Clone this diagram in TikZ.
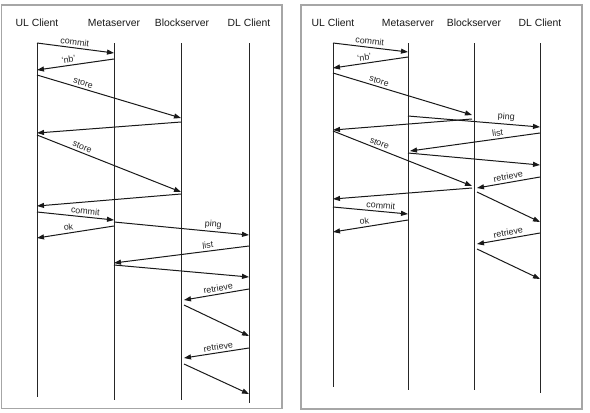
\documentclass[tikz,border=0pt]{standalone}
\usepackage{fontspec}
\setmainfont{Liberation Sans}
\usetikzlibrary{arrows.meta}
\begin{document}
\begin{tikzpicture}[x=1pt,y=-1pt,
  frame/.style={draw=black!35,line width=1.1pt},
  hdr/.style={font=\fontsize{10.4}{12}\selectfont,inner sep=0pt,text=black!90},
  life/.style={draw=black!85,line width=1pt},
  msg/.style={draw=black!90,line width=1pt,-{Triangle[length=7pt,width=5pt]}},
  lbl/.style={font=\fontsize{8.9}{10}\selectfont,sloped,above,inner sep=2.2pt,text=black!85}]
\useasboundingbox (0,0) rectangle (590,413);
\fill[white] (0,0) rectangle (590,413);
% frames
\draw[frame] (1.5,5) rectangle (282,408.5);
\draw[frame] (301,5) rectangle (582,409);

% ---------- left panel ----------
\node[hdr] (hulA) at (37,23) {UL Client};
\node[hdr] (hmsA) at (114,23) {Metaserver};
\node[hdr] (hbsA) at (182,23) {Blockserver};
\node[hdr] (hdlA) at (249,23) {DL Client};
\coordinate (ulA) at (37,43);  \coordinate (ulAe) at (37,397);
\coordinate (msA) at (114,43); \coordinate (msAe) at (114,400);
\coordinate (bsA) at (181,43); \coordinate (bsAe) at (181,400);
\coordinate (dlA) at (249,43); \coordinate (dlAe) at (249,403);
\draw[life] (ulA) -- (ulAe);
\draw[life] (msA) -- (msAe);
\draw[life] (bsA) -- (bsAe);
\draw[life] (dlA) -- (dlAe);

\draw[msg] (ulA |- 0,43) -- node[lbl,pos=.48]{commit} (msA |- 0,53);
\draw[msg] (msA |- 0,59) -- node[lbl,pos=.58]{`nb'} (ulA |- 0,70);
\draw[msg] (ulA |- 0,75) -- node[lbl,pos=.31]{store} (bsA |- 0,118);
\draw[msg] (bsA |- 0,122) -- (ulA |- 0,133);
\draw[msg] (ulA |- 0,135) -- node[lbl,pos=.30]{store} (bsA |- 0,192);
\draw[msg] (bsA |- 0,194) -- (ulA |- 0,206);
\draw[msg] (ulA |- 0,212) -- node[lbl,pos=.62]{commit} (msA |- 0,220);
\draw[msg] (msA |- 0,222) -- node[lbl,pos=.73]{ping} (dlA |- 0,235);
\draw[msg] (msA |- 0,226) -- node[lbl,pos=.58]{ok} (ulA |- 0,238);
\draw[msg] (dlA |- 0,246) -- node[lbl,pos=.30]{list} (msA |- 0,263);
\draw[msg] (msA |- 0,265) -- (dlA |- 0,277);
\draw[msg] (dlA |- 0,289) -- node[lbl,pos=.46]{retrieve} ([xshift=3pt]bsA |- 0,300);
\draw[msg] ([xshift=3pt]bsA |- 0,305) -- (dlA |- 0,336);
\draw[msg] (dlA |- 0,348) -- node[lbl,pos=.46]{retrieve} ([xshift=3pt]bsA |- 0,358);
\draw[msg] ([xshift=3pt]bsA |- 0,364) -- (dlA |- 0,394);

% ---------- right panel ----------
\node[hdr] (hulB) at (333,23) {UL Client};
\node[hdr] (hmsB) at (408,23) {Metaserver};
\node[hdr] (hbsB) at (474,23) {Blockserver};
\node[hdr] (hdlB) at (540,23) {DL Client};
\coordinate (ulB) at (333,43); \coordinate (ulBe) at (333,387);
\coordinate (msB) at (408,43); \coordinate (msBe) at (408,390);
\coordinate (bsB) at (474,43); \coordinate (bsBe) at (474,390);
\coordinate (dlB) at (540,43); \coordinate (dlBe) at (540,393);
\draw[life] (ulB) -- (ulBe);
\draw[life] (msB) -- (msBe);
\draw[life] (bsB) -- (bsBe);
\draw[life] (dlB) -- (dlBe);

\draw[msg] (ulB |- 0,43) -- node[lbl,pos=.48]{commit} (msB |- 0,52);
\draw[msg] (msB |- 0,57) -- node[lbl,pos=.57]{`nb'} (ulB |- 0,68);
\draw[msg] (ulB |- 0,73) -- node[lbl,pos=.32]{store} ([xshift=-2pt]bsB |- 0,115);
\draw[msg] (msB |- 0,116) -- node[lbl,pos=.74]{ping} (dlB |- 0,127);
\draw[msg] ([xshift=-2pt]bsB |- 0,119) -- (ulB |- 0,130);
\draw[msg] (dlB |- 0,133) -- node[lbl,pos=.32]{list} ([xshift=2pt]msB |- 0,151);
\draw[msg] (ulB |- 0,131) -- node[lbl,pos=.32]{store} ([xshift=-2pt]bsB |- 0,186);
\draw[msg] (msB |- 0,153) -- (dlB |- 0,165);
\draw[msg] (dlB |- 0,177) -- node[lbl,pos=.49]{retrieve} ([xshift=3pt]bsB |- 0,188);
\draw[msg] ([xshift=-2pt]bsB |- 0,188) -- (ulB |- 0,199);
\draw[msg] (ulB |- 0,207) -- node[lbl,pos=.63]{commit} (msB |- 0,214);
\draw[msg] (msB |- 0,220) -- node[lbl,pos=.57]{ok} (ulB |- 0,232);
\draw[msg] ([xshift=3pt]bsB |- 0,192) -- (dlB |- 0,222);
\draw[msg] (dlB |- 0,233) -- node[lbl,pos=.49]{retrieve} ([xshift=3pt]bsB |- 0,244);
\draw[msg] ([xshift=3pt]bsB |- 0,249) -- (dlB |- 0,279);
\end{tikzpicture}
\end{document}
